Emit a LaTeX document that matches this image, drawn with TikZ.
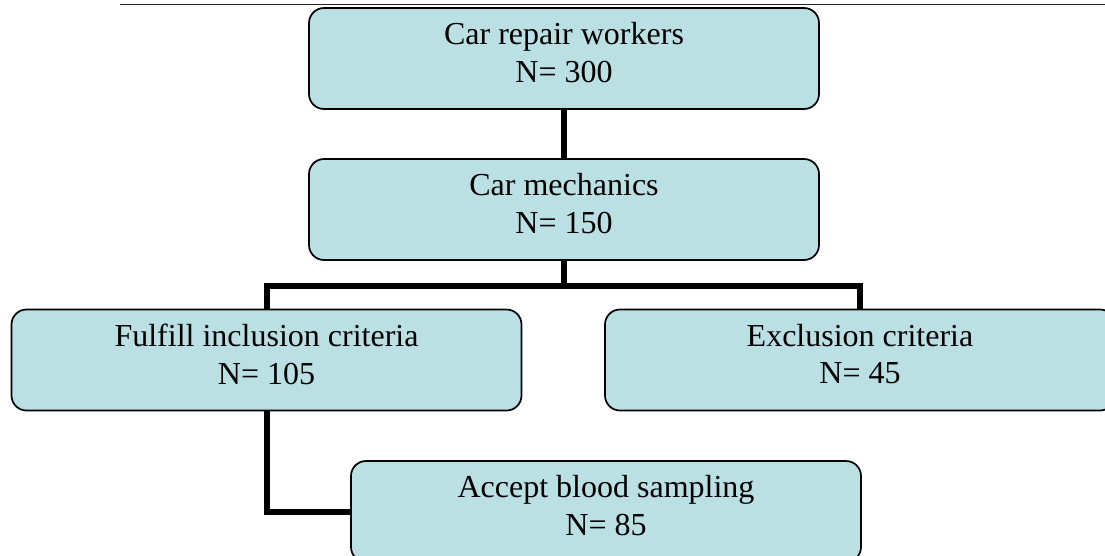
\documentclass[tikz,border=0pt]{standalone}
\usepackage{fontspec}
\setmainfont{Liberation Serif}
\definecolor{boxfill}{RGB}{186,224,227}
\tikzset{
  flowbox/.style={draw=black, line width=1.7pt, fill=boxfill, rounded corners=15pt,
    minimum width=510pt, minimum height=101pt, inner sep=0pt, align=center,
    text depth=12pt, font=\fontsize{32}{37.5}\selectfont},
  link/.style={draw=black, line width=6pt, line cap=butt}
}
\begin{document}
\begin{tikzpicture}[x=1pt,y=-1pt]
\useasboundingbox (0,0) rectangle (1105,555);
\clip (0,0) rectangle (1105,555);
\fill[white] (0,0) rectangle (1105,555);
\coordinate (ruleL) at (120,4.7);
\coordinate (ruleR) at (1105,4.7);
\draw[line width=1.5pt, black!85] (ruleL) -- (ruleR);
\node[flowbox] (b1) at (564,58.5) {Car repair workers\\N= 300};
\node[flowbox] (b2) at (564,209.5) {Car mechanics\\N= 150};
\node[flowbox] (b3) at (266.5,360) {Fulfill inclusion criteria\\N= 105};
\node[flowbox] (b4) at (860,360) {Exclusion criteria\\N= 45};
\node[flowbox] (b5) at (606,511.5) {Accept blood sampling\\N= 85};
\coordinate (split) at (564,286);
\draw[link] (b1.south) -- (b2.north);
\draw[link] (b2.south) -- (split);
\draw[link] (b3.north) |- (split) -| (b4.north);
\draw[link] (b3.south) |- (b5.west);
\end{tikzpicture}
\end{document}
